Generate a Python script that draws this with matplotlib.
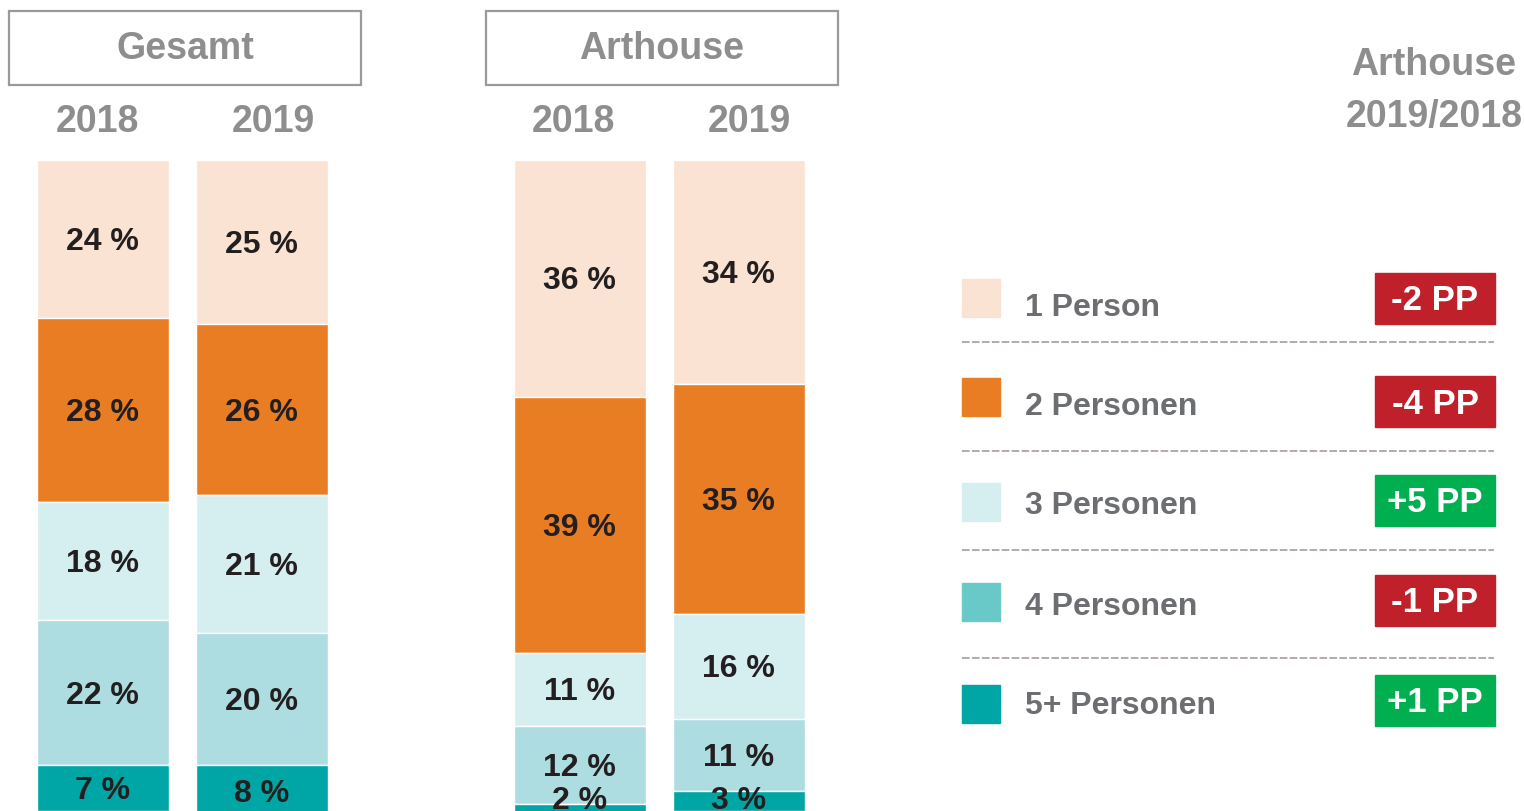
import matplotlib.pyplot as plt
from matplotlib.patches import Rectangle

plt.rcParams['font.family'] = ['Liberation Sans', 'DejaVu Sans']

# Daten
groups = ["Gesamt", "Arthouse"]
years = ["2018", "2019"]
categories = ["1 Person", "2 Personen", "3 Personen", "4 Personen", "5+ Personen"]
gesamt_2018 = [24, 28, 18, 22, 7]
gesamt_2019 = [25, 26, 21, 20, 8]
arthouse_2018 = [36, 39, 11, 12, 2]
arthouse_2019 = [34, 35, 16, 11, 3]
changes = ["-2 PP", "-4 PP", "+5 PP", "-1 PP", "+1 PP"]

bar_colors = ["#FAE3D2", "#E97D24", "#D5EEF0", "#ADDDE0", "#00A5A5"]
legend_colors = ["#FAE3D2", "#E97D24", "#D5EEF0", "#69C9C8", "#00A5A5"]
red, green = "#C0202A", "#00AF50"
grey = "#8E8E8E"
W, H = 1524, 811
dy = 3  # Textversatz nach unten (px)

fig = plt.figure(figsize=(W / 100, H / 100), dpi=100)

# Balken (y = Prozent, von oben nach unten gestapelt, unten abgeschnitten)
top_px = 160
ymax = 99
ax = fig.add_axes([0, 0, 1, (H - top_px) / H])
ax.set_xlim(0, W)
ax.set_ylim(ymax, 0)
ax.axis("off")
px_per_pct = (H - top_px) / ymax

series = [[gesamt_2018, gesamt_2019], [arthouse_2018, arthouse_2019]]
group_centers = [182, 659]
offset, width = 79.5, 132
for g, center in enumerate(group_centers):
    for j, vals in enumerate(series[g]):
        x = center + (j * 2 - 1) * offset
        bottom = 0
        for k, v in enumerate(vals):
            ax.bar(x, v, width=width, bottom=bottom, color=bar_colors[k],
                   edgecolor="white", linewidth=1)
            ly = min(bottom + v / 2, 97.0) + dy / px_per_pct
            ax.text(x, ly, f"{v} %", ha="center", va="center",
                    fontsize=23, fontweight="bold", color="#231F20", clip_on=False)
            bottom += v

# Überschriften, Legende
ov = fig.add_axes([0, 0, 1, 1])
ov.set_xlim(0, W)
ov.set_ylim(H, 0)
ov.axis("off")
ov.patch.set_alpha(0)

year_x = [[97, 273], [573, 749]]
for g, center in enumerate(group_centers):
    ov.add_patch(Rectangle((center - 173, 11), 352, 74, fill=False,
                           edgecolor="#9A9A9A", linewidth=1.6))
    ov.text(center + 3, 46 + dy, groups[g], ha="center", va="center",
            fontsize=27, fontweight="bold", color=grey)
    for j, yr in enumerate(years):
        ov.text(year_x[g][j], 119 + dy, yr, ha="center", va="center",
                fontsize=27, fontweight="bold", color=grey)

ov.text(1434, 62 + dy, "Arthouse", ha="center", va="center",
        fontsize=27, fontweight="bold", color=grey)
ov.text(1434, 114 + dy, "2019/2018", ha="center", va="center",
        fontsize=27, fontweight="bold", color=grey)

square_y = [298, 397, 502, 602, 704]
label_y = [305, 404, 503, 604, 703]
badge_y = [298, 401, 500, 600, 700]
sep_y = [342, 451, 550, 658]
for i, cat in enumerate(categories):
    ov.add_patch(Rectangle((962, square_y[i] - 19), 38, 38, color=legend_colors[i]))
    ov.text(1025, label_y[i] + dy, cat, ha="left", va="center",
            fontsize=23, fontweight="bold", color="#6D6E71")
    col = green if changes[i].startswith("+") else red
    ov.add_patch(Rectangle((1375, badge_y[i] - 25), 120, 51, color=col))
    ov.text(1435, badge_y[i] + dy, changes[i], ha="center", va="center",
            fontsize=25, fontweight="bold", color="white")
for ly in sep_y:
    ov.plot([962, 1494], [ly, ly], color="#9E9491", linewidth=1.1,
            dashes=(5, 1.5))

fig.savefig("out.png", dpi=100)
